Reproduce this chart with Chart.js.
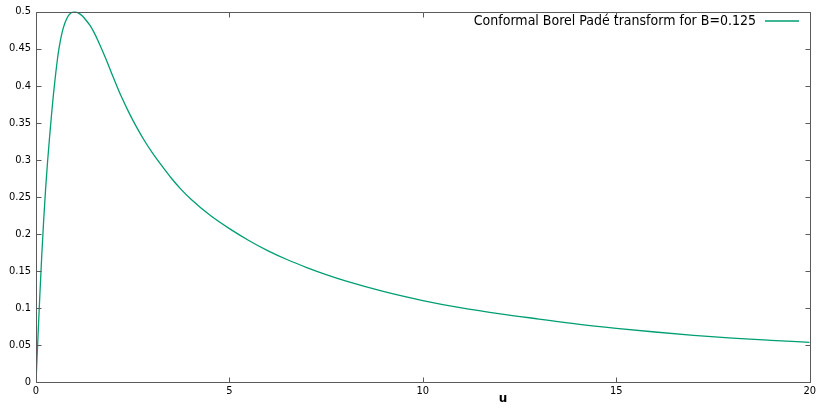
<!DOCTYPE html>
<html>
<head>
<meta charset="utf-8">
<script src="https://cdn.jsdelivr.net/npm/chart.js@4/dist/chart.umd.min.js"></script>
<style>
  html, body { margin: 0; padding: 0; background: #ffffff; }
  #wrap { width: 819px; height: 409px; }
</style>
</head>
<body>
<div id="wrap"><canvas id="borel" width="819" height="409"></canvas></div>
<script>
// valores
const u_values = [0, 0.05, 0.1, 0.15, 0.2, 0.25, 0.3, 0.35, 0.4, 0.45, 0.5, 0.55, 0.6, 0.7, 0.8, 0.9, 1.0,
  1.1, 1.2, 1.3, 1.4, 1.5, 1.6, 1.8, 2.0, 2.2, 2.4, 2.6, 2.8, 3.0, 3.25, 3.5, 3.75, 4.0, 4.5,
  5, 5.5, 6, 6.5, 7, 7.5, 8, 9, 10, 11, 12, 13, 14, 15, 16, 17, 18, 19, 20];
const transform_values = [0, 0.06, 0.118, 0.172, 0.22, 0.262, 0.298, 0.33, 0.36, 0.388, 0.412, 0.434, 0.452, 0.477, 0.491, 0.498, 0.5,
  0.498, 0.494, 0.488, 0.481, 0.472, 0.461, 0.437, 0.411, 0.386, 0.364, 0.344, 0.326, 0.31, 0.292, 0.275, 0.26, 0.247, 0.225,
  0.207, 0.191, 0.177, 0.165, 0.1545, 0.145, 0.1365, 0.122, 0.11, 0.1, 0.092, 0.085, 0.0782, 0.0725, 0.0675, 0.063, 0.0593, 0.0563, 0.0536];
const x_ticks = [0, 5, 10, 15, 20];
const y_ticks = [0, 0.05, 0.1, 0.15, 0.2, 0.25, 0.3, 0.35, 0.4, 0.45, 0.5];
const series_label = "Conformal Borel Padé transform for B=0.125";
const axis_label = "u";

const line_color = "#009e73";
const frame_color = "#5a5a5a";
const legend_font = "14px 'DejaVu Sans Condensed', 'DejaVu Sans', sans-serif";

const dataset = [];
u_values.forEach((u, i) => {
  dataset.push({ x: u, y: transform_values[i] });
});

// moldura estilo gnuplot, com ticks para dentro, legenda e rótulo do eixo
const gnuplotFrame = {
  id: "gnuplotFrame",
  afterDraw(chart) {
    const ctx = chart.ctx;
    const area = chart.chartArea;
    const xs = chart.scales.x;
    const ys = chart.scales.y;
    const L = Math.round(area.left) + 0.5;
    const R = Math.round(area.right) + 0.5;
    const T = Math.round(area.top) + 0.5;
    const B = Math.round(area.bottom) + 0.5;
    ctx.save();
    ctx.strokeStyle = frame_color;
    ctx.lineWidth = 1;
    ctx.beginPath();
    ctx.rect(L, T, R - L, B - T);
    x_ticks.forEach((v) => {
      const px = Math.round(xs.getPixelForValue(v)) + 0.5;
      ctx.moveTo(px, B); ctx.lineTo(px, B - 5);
      ctx.moveTo(px, T); ctx.lineTo(px, T + 5);
    });
    y_ticks.forEach((v) => {
      const py = Math.round(ys.getPixelForValue(v)) + 0.5;
      ctx.moveTo(L, py); ctx.lineTo(L + 5, py);
      ctx.moveTo(R, py); ctx.lineTo(R - 5, py);
    });
    ctx.stroke();

    // legenda
    ctx.font = legend_font;
    ctx.fillStyle = "#000000";
    ctx.textAlign = "right";
    ctx.textBaseline = "middle";
    ctx.fillText(series_label, 756, 21);
    ctx.strokeStyle = line_color;
    ctx.lineWidth = 1.3;
    ctx.beginPath();
    ctx.moveTo(765, 21);
    ctx.lineTo(799, 21);
    ctx.stroke();

    // rótulo do eixo x
    ctx.font = "bold 12px 'DejaVu Sans', sans-serif";
    ctx.textAlign = "center";
    ctx.fillText(axis_label, 503, 399);
    ctx.restore();
  },
};

new Chart(document.getElementById("borel"), {
  type: "scatter",
  data: {
    datasets: [
      {
        label: series_label,
        data: dataset,
        showLine: true,
        borderColor: line_color,
        borderWidth: 1.3,
        pointRadius: 0,
        cubicInterpolationMode: "monotone",
        fill: false,
      },
    ],
  },
  options: {
    responsive: false,
    animation: false,
    devicePixelRatio: 1,
    layout: { padding: { top: 11, right: 9, left: 0, bottom: 0 } },
    plugins: {
      legend: { display: false },
      tooltip: { enabled: false },
    },
    scales: {
      x: {
        type: "linear",
        min: 0,
        max: 20,
        afterBuildTicks: (scale) => { scale.ticks = x_ticks.map((v) => ({ value: v })); },
        afterFit: (scale) => { scale.height = 27; },
        grid: { display: false, drawTicks: false },
        border: { display: false },
        ticks: { color: "#000000", padding: 3, maxRotation: 0, font: { family: "'DejaVu Sans Condensed', 'DejaVu Sans', sans-serif", size: 11 } },
      },
      y: {
        type: "linear",
        min: 0,
        max: 0.5,
        afterBuildTicks: (scale) => { scale.ticks = y_ticks.map((v) => ({ value: v })); },
        afterFit: (scale) => { scale.width = 36; },
        grid: { display: false, drawTicks: false },
        border: { display: false },
        ticks: {
          color: "#000000",
          padding: 5,
          font: { family: "'DejaVu Sans Condensed', 'DejaVu Sans', sans-serif", size: 11 },
          callback: (v) => String(Number(v.toFixed(2))),
        },
      },
    },
  },
  plugins: [gnuplotFrame],
});
</script>
</body>
</html>
